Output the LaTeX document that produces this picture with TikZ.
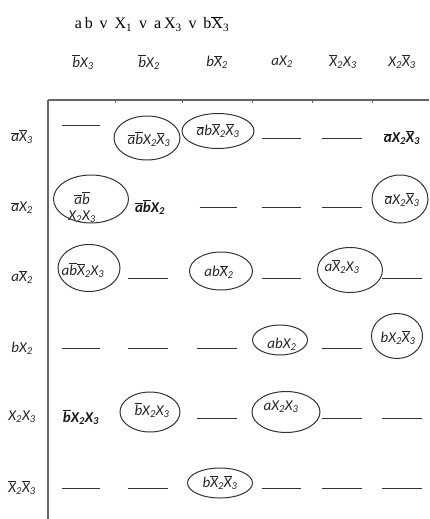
\documentclass[tikz,border=0pt]{standalone}
\usepackage{fontspec}
\setmainfont{Carlito}
\newfontfamily\titlefont[LetterSpace=18]{Liberation Serif}
\usetikzlibrary{shapes.geometric}
\newcommand\ov[1]{\ensuremath{\overline{\mbox{#1}}}}
\newcommand\sbs[1]{\textsubscript{#1}}

\begin{document}
\begin{tikzpicture}[x=1pt, y=-1pt,
  lbl/.style={font=\itshape\fontsize{15}{16}\selectfont, text=black!85, inner sep=0},
  bld/.style={font=\bfseries\itshape\fontsize{15}{16}\selectfont, text=black!90, inner sep=0},
  oval/.style={draw=black!80, ellipse, line width=1pt, inner sep=0},
  blank/.style={inner sep=0, text=black!80}]
\useasboundingbox (0,0) rectangle (429,519);

\node[inner sep=0] (t) at (152,24) {\titlefont\fontsize{16}{18}\selectfont ab v X\sbs{1} v aX\sbs{3} v b\ov{X}\sbs{3}};

% column heads
\node[lbl] (h1) at (83,62) {\ov{b}X\sbs{3}};
\node[lbl] (h2) at (149,62) {\ov{b}X\sbs{2}};
\node[lbl] (h3) at (217,62) {b\ov{X}\sbs{2}};
\node[lbl] (h4) at (282,62) {aX\sbs{2}};
\node[lbl] (h5) at (343,62) {\ov{X}\sbs{2}X\sbs{3}};
\node[lbl] (h6) at (402,62) {X\sbs{2}\ov{X}\sbs{3}};

% row heads
\node[lbl] (r1) at (22,137) {\ov{a}\ov{X}\sbs{3}};
\node[lbl] (r2) at (22,208) {\ov{a}X\sbs{2}};
\node[lbl] (r3) at (22,277) {a\ov{X}\sbs{2}};
\node[lbl] (r4) at (22,348) {bX\sbs{2}};
\node[lbl] (r5) at (22,417) {X\sbs{2}X\sbs{3}};
\node[lbl] (r6) at (22,488) {\ov{X}\sbs{2}\ov{X}\sbs{3}};

\draw[black!60, line width=1.2pt] (48,100) -- (429,100);
\draw[black!60, line width=1.2pt] (48,100) -- (48,519);
\foreach \x in {115,182,252,312,372}
  \draw[black!60, line width=0.8pt] (\x,100) -- (\x,103);

% row 1
\node[blank] (11) at (81,125) {\rule{38pt}{0.8pt}};
\node[oval, minimum width=66, minimum height=44] (o12) at (147,138) {};
\node[lbl] (12) at (149,139) {\ov{a}\ov{b}X\sbs{2}\ov{X}\sbs{3}};
\node[oval, minimum width=72, minimum height=35] (o13) at (218,131) {};
\node[lbl] (13) at (218,131) {\ov{a}b\ov{X}\sbs{2}\ov{X}\sbs{3}};
\node[blank] (14) at (281,138) {\rule{39pt}{0.8pt}};
\node[blank] (15) at (342,138) {\rule{40pt}{0.8pt}};
\node[bld] (16) at (402,138) {\ov{a}X\sbs{2}\ov{X}\sbs{3}};

% row 2
\node[oval, minimum width=75, minimum height=48] (o21) at (91,199) {};
\node[lbl, align=center] (21) at (82,207) {\ov{a}\ov{b}\\X\sbs{2}X\sbs{3}};
\node[bld] (22) at (150,207) {\ov{a}\ov{b}X\sbs{2}};
\node[blank] (23) at (218,207) {\rule{37pt}{0.8pt}};
\node[blank] (24) at (281,207) {\rule{39pt}{0.8pt}};
\node[blank] (25) at (342,207) {\rule{40pt}{0.8pt}};
\node[oval, minimum width=56, minimum height=48] (o26) at (400,199) {};
\node[lbl] (26) at (402,200) {\ov{a}X\sbs{2}\ov{X}\sbs{3}};

% row 3
\node[oval, minimum width=62, minimum height=47] (o31) at (89,268) {};
\node[lbl] (31) at (83,270) {a\ov{b}\ov{X}\sbs{2}X\sbs{3}};
\node[blank] (32) at (148,278) {\rule{40pt}{0.8pt}};
\node[oval, minimum width=63, minimum height=38] (o33) at (221,271) {};
\node[lbl] (33) at (219,272) {ab\ov{X}\sbs{2}};
\node[blank] (34) at (281,278) {\rule{39pt}{0.8pt}};
\node[oval, minimum width=65, minimum height=45] (o35) at (350,270) {};
\node[lbl] (35) at (342,267) {a\ov{X}\sbs{2}X\sbs{3}};
\node[blank] (36) at (402,278) {\rule{40pt}{0.8pt}};

% row 4
\node[blank] (41) at (81,348) {\rule{38pt}{0.8pt}};
\node[blank] (42) at (148,348) {\rule{40pt}{0.8pt}};
\node[blank] (43) at (217,348) {\rule{40pt}{0.8pt}};
\node[oval, minimum width=55, minimum height=30] (o44) at (280,340) {};
\node[lbl] (44) at (282,344) {abX\sbs{2}};
\node[blank] (45) at (342,348) {\rule{40pt}{0.8pt}};
\node[oval, minimum width=51, minimum height=45] (o46) at (397,336) {};
\node[lbl] (46) at (398,338) {bX\sbs{2}\ov{X}\sbs{3}};

% row 5
\node[bld] (51) at (81,417) {\ov{b}X\sbs{2}X\sbs{3}};
\node[oval, minimum width=60, minimum height=40] (o52) at (150,412) {};
\node[lbl] (52) at (152,410) {\ov{b}X\sbs{2}X\sbs{3}};
\node[blank] (53) at (217,418) {\rule{40pt}{0.8pt}};
\node[oval, minimum width=68, minimum height=41] (o54) at (286,412) {};
\node[lbl] (54) at (281,407) {aX\sbs{2}X\sbs{3}};
\node[blank] (55) at (342,418) {\rule{40pt}{0.8pt}};
\node[blank] (56) at (402,418) {\rule{40pt}{0.8pt}};

% row 6
\node[blank] (61) at (81,488) {\rule{38pt}{0.8pt}};
\node[blank] (62) at (148,488) {\rule{40pt}{0.8pt}};
\node[oval, minimum width=65, minimum height=30] (o63) at (220,483) {};
\node[lbl] (63) at (220,483) {b\ov{X}\sbs{2}\ov{X}\sbs{3}};
\node[blank] (64) at (281,488) {\rule{39pt}{0.8pt}};
\node[blank] (65) at (342,488) {\rule{40pt}{0.8pt}};
\node[blank] (66) at (402,488) {\rule{40pt}{0.8pt}};
\end{tikzpicture}
\end{document}
